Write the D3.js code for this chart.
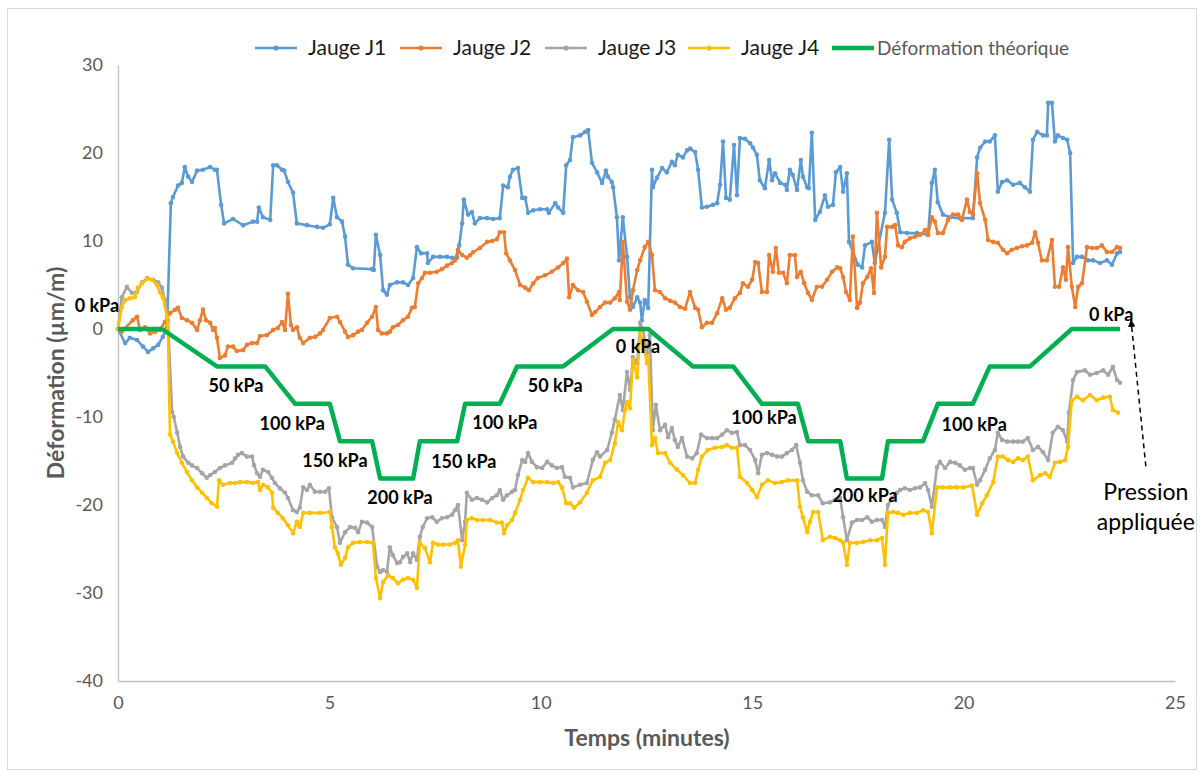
<!DOCTYPE html>
<html><head><meta charset="utf-8">
<script src="https://cdn.jsdelivr.net/npm/d3@7"></script>
<style>body{margin:0;background:#fff}svg{display:block}text{font-family:Lato,"Open Sans",sans-serif}</style>
</head><body><svg id="c" width="1203" height="776"></svg>
<script>
// ---------- DATA (time in minutes, strain in µm/m) ----------
const seriesNames = ["Jauge J1","Jauge J2","Jauge J3","Jauge J4","Déformation théorique"];
const xTicks = [0,5,10,15,20,25];
const yTicks = [-40,-30,-20,-10,0,10,20,30];

const j1 = [[0,0],[0.17,-1.6],[0.28,-1.0],[0.45,-1.25],[0.59,-2.0],[0.71,-2.6],[0.83,-2.2],[0.95,-1.8],[1.06,-0.9],[1.16,0.2],
[1.25,14.3],[1.30,15.0],[1.42,16.3],[1.51,16.6],[1.58,18.4],[1.66,17.3],[1.75,16.7],[1.87,18.0],[2.01,18.1],[2.18,18.4],[2.29,18.1],[2.34,18.1],
[2.44,14.1],[2.51,12.0],[2.72,12.5],[2.96,11.8],[3.19,12.2],[3.29,12.2],[3.33,13.8],[3.43,12.7],[3.60,12.4],
[3.67,18.6],[3.76,18.6],[3.88,18.1],[3.93,18.0],[4.02,16.7],[4.14,15.5],[4.23,12.0],[4.47,11.8],[4.71,11.6],[4.85,11.5],[5.01,11.9],[5.09,14.9],[5.18,12.7],[5.30,12.2],[5.37,10.5],[5.44,7.3],[5.56,6.9],[6.01,6.8],[6.05,6.7],[6.10,10.7],[6.20,8.4],[6.27,4.4],[6.36,3.9],[6.43,5.0],[6.60,5.3],[6.74,5.3],[6.86,5.0],[6.98,5.8],[7.07,9.3],[7.17,8.6],[7.31,8.6],[7.33,7.5],[7.45,8.2],[7.62,8.2],[7.78,8.2],[7.90,8.1],[8.02,8.1],[8.07,9.5],[8.14,12.0],[8.18,14.7],[8.28,13.0],[8.37,13.3],[8.44,12.0],[8.56,12.6],[8.73,12.6],[8.87,12.5],[9.03,12.6],[9.11,16.3],[9.22,16.1],[9.27,17.3],[9.34,18.1],[9.46,18.3],[9.56,14.9],[9.63,14.9],[9.70,13.2],[9.82,13.5],[9.98,13.6],[10.15,13.6],[10.19,13.2],[10.34,14.3],[10.41,13.8],[10.53,13.2],[10.60,18.6],[10.69,19.2],[10.76,21.8],[10.93,22.0],[11.05,22.4],[11.12,22.6],[11.21,18.9],[11.33,17.8],[11.45,16.6],[11.54,18.0],[11.59,17.3],[11.68,16.7],[11.71,16.1],[11.80,12.7],[11.85,7.8],[11.94,12.7],[12.04,8.2],[12.11,3.6],[12.18,2.5],[12.28,3.6],[12.35,3.0],[12.39,1.0],[12.46,3.3],[12.54,2.4],[12.63,18.1],[12.65,16.1],[12.75,17.2],[12.87,18.3],[12.98,17.8],[13.10,19.0],[13.17,18.6],[13.24,19.8],[13.36,19.5],[13.46,20.3],[13.53,20.5],[13.65,20.1],[13.72,18.1],[13.81,13.8],[13.93,13.9],[14.07,14.1],[14.17,14.3],[14.24,16.4],[14.31,21.3],[14.38,14.9],[14.47,14.7],[14.57,20.9],[14.64,15.2],[14.71,21.7],[14.83,21.6],[14.95,21.1],[15.02,20.6],[15.11,19.8],[15.18,16.9],[15.30,16.0],[15.40,19.2],[15.47,16.9],[15.54,17.7],[15.66,16.6],[15.78,16.4],[15.82,15.8],[15.89,18.1],[15.96,17.5],[16.06,15.8],[16.15,19.2],[16.20,17.3],[16.30,16.1],[16.34,16.0],[16.41,22.3],[16.49,12.4],[16.60,13.3],[16.72,15.2],[16.79,13.9],[16.91,14.1],[16.98,17.8],[17.08,18.4],[17.15,15.6],[17.24,17.7],[17.29,9.9],[17.50,7.3],[17.60,7.0],[17.67,9.5],[17.83,9.9],[17.90,7.5],[18.14,13.2],[18.24,21.5],[18.31,14.7],[18.42,13.2],[18.50,11.0],[18.66,10.9],[18.90,10.9],[19.16,10.7],[19.25,16.6],[19.32,18.1],[19.39,14.4],[19.51,13.0],[19.68,12.7],[19.91,12.6],[20.22,12.6],[20.32,19.5],[20.39,20.6],[20.51,21.3],[20.62,21.3],[20.74,22.0],[20.81,15.6],[20.91,16.7],[21.03,16.9],[21.17,16.4],[21.33,16.6],[21.45,16.1],[21.57,15.6],[21.64,21.5],[21.74,22.4],[21.88,22.0],[21.97,22.0],[22.00,25.7],[22.09,25.7],[22.16,21.3],[22.23,22.0],[22.35,21.7],[22.45,21.5],[22.52,20.0],[22.59,7.5],[22.68,8.2],[22.80,8.2],[22.94,7.8],[23.06,7.8],[23.23,7.5],[23.39,7.8],[23.51,7.3],[23.63,8.6],[23.70,8.75]];

const j2 = [[0,0],[0.09,-0.3],[0.35,1.0],[0.45,1.4],[0.52,-0.1],[0.64,0.2],[0.76,-0.5],[0.88,-0.3],[0.99,-0.1],[1.11,0.8],[1.23,1.8],[1.35,2.2],[1.42,2.4],[1.51,1.25],[1.63,1.0],[1.75,0.7],[1.87,-0.1],[1.94,1.0],[2.01,2.2],[2.08,1.0],[2.18,0.7],[2.25,-0.1],[2.29,0.1],[2.34,-1.0],[2.41,-3.3],[2.53,-3.0],[2.60,-2.0],[2.72,-2.0],[2.81,-2.5],[2.96,-2.4],[3.05,-1.8],[3.17,-1.6],[3.29,-1.6],[3.36,-0.8],[3.52,-0.7],[3.67,-0.1],[3.78,0.1],[3.88,0.8],[3.95,-0.1],[4.02,4.0],[4.09,0.45],[4.14,-0.1],[4.23,0.2],[4.30,-1.0],[4.38,-1.6],[4.54,-1.0],[4.66,-0.9],[4.78,-0.5],[4.85,-0.1],[5.01,1.25],[5.18,1.4],[5.25,0.8],[5.37,-0.3],[5.44,-0.9],[5.56,-0.7],[5.68,-0.3],[5.77,-0.1],[5.89,0.7],[6.01,1.4],[6.10,2.5],[6.15,-0.1],[6.24,-0.5],[6.36,-0.5],[6.43,-0.3],[6.50,0.2],[6.62,0.45],[6.74,1.0],[6.86,1.4],[6.95,2.4],[7.02,2.5],[7.10,5.2],[7.19,5.8],[7.26,6.4],[7.38,6.4],[7.54,6.5],[7.66,6.8],[7.78,7.2],[7.90,7.5],[7.97,7.8],[8.04,9.0],[8.14,8.4],[8.25,8.1],[8.33,8.4],[8.40,8.75],[8.56,9.2],[8.73,9.9],[8.85,10.0],[8.96,10.2],[9.03,11.0],[9.13,11.0],[9.18,8.6],[9.27,7.8],[9.39,6.7],[9.51,5.0],[9.63,4.7],[9.72,4.4],[9.82,5.2],[9.93,5.8],[10.10,6.1],[10.26,6.5],[10.41,7.0],[10.53,7.5],[10.62,8.0],[10.67,3.6],[10.76,5.0],[10.88,4.4],[11.00,4.2],[11.09,3.1],[11.21,1.6],[11.28,1.9],[11.40,2.5],[11.52,3.0],[11.64,3.0],[11.75,3.5],[11.85,4.2],[11.87,3.3],[11.94,9.9],[12.04,3.1],[12.11,2.2],[12.18,4.4],[12.28,6.7],[12.35,7.8],[12.46,9.3],[12.54,9.9],[12.63,8.4],[12.70,4.4],[12.82,4.2],[12.94,3.5],[13.06,3.2],[13.17,3.0],[13.29,2.5],[13.41,2.3],[13.53,4.2],[13.65,2.4],[13.72,2.2],[13.81,0.2],[13.93,0.7],[14.05,0.7],[14.17,1.8],[14.29,3.5],[14.38,2.2],[14.47,2.4],[14.59,3.5],[14.71,4.1],[14.78,5.2],[14.90,4.8],[15.00,5.6],[15.07,7.6],[15.14,7.5],[15.23,4.2],[15.35,4.2],[15.40,8.4],[15.49,6.5],[15.56,9.2],[15.63,6.4],[15.73,6.4],[15.82,5.2],[15.89,8.4],[16.01,8.4],[16.06,5.9],[16.15,6.5],[16.23,5.2],[16.32,4.1],[16.41,3.3],[16.53,4.8],[16.65,4.8],[16.77,5.6],[16.89,6.5],[17.01,7.0],[17.08,6.9],[17.15,5.9],[17.22,4.2],[17.31,3.3],[17.38,10.5],[17.48,2.4],[17.55,3.0],[17.62,5.2],[17.72,5.9],[17.81,6.9],[17.88,4.1],[17.95,13.2],[18.05,7.0],[18.14,8.2],[18.19,11.6],[18.31,11.6],[18.38,11.8],[18.45,9.5],[18.54,9.3],[18.61,9.9],[18.73,10.3],[18.85,10.5],[18.97,10.7],[19.09,11.25],[19.16,10.7],[19.25,12.7],[19.32,12.2],[19.39,10.9],[19.51,10.9],[19.63,12.4],[19.75,13.0],[19.87,13.0],[19.96,12.4],[20.08,14.7],[20.15,13.3],[20.22,13.0],[20.32,17.7],[20.39,14.3],[20.51,12.4],[20.58,10.1],[20.70,9.9],[20.81,9.8],[20.93,9.0],[21.03,8.6],[21.14,9.0],[21.26,9.2],[21.38,9.4],[21.50,9.5],[21.62,9.8],[21.69,11.0],[21.76,9.8],[21.85,7.8],[21.97,7.8],[22.09,10.1],[22.16,4.8],[22.26,4.8],[22.35,7.0],[22.42,5.6],[22.47,9.3],[22.56,4.8],[22.64,2.5],[22.71,4.8],[22.80,5.2],[22.92,9.3],[23.04,9.2],[23.15,9.2],[23.27,9.5],[23.39,8.75],[23.51,8.75],[23.63,9.3],[23.70,9.2]];

const j3 = [[0,0],[0.09,3.6],[0.21,4.8],[0.33,4.1],[0.45,4.2],[0.57,5.3],[0.69,5.8],[0.83,5.6],[0.95,5.3],[1.04,4.7],[1.11,3.3],[1.18,1.0],[1.28,-9.4],[1.32,-10.0],[1.40,-11.8],[1.47,-13.4],[1.54,-14.5],[1.66,-15.2],[1.75,-15.5],[1.87,-15.8],[1.99,-16.4],[2.10,-16.9],[2.18,-16.6],[2.29,-16.25],[2.41,-15.8],[2.53,-15.5],[2.70,-15.2],[2.77,-14.7],[2.84,-14.3],[2.93,-14.1],[3.05,-14.5],[3.17,-14.5],[3.22,-15.5],[3.29,-16.4],[3.36,-16.8],[3.43,-16.0],[3.55,-16.25],[3.64,-16.9],[3.71,-17.5],[3.83,-18.1],[3.95,-18.6],[4.02,-19.2],[4.14,-20.6],[4.23,-20.8],[4.30,-20.3],[4.38,-18.0],[4.47,-18.3],[4.54,-17.7],[4.66,-18.5],[4.78,-18.5],[4.90,-18.5],[4.99,-18.1],[5.06,-21.4],[5.18,-22.5],[5.25,-24.3],[5.37,-23.1],[5.49,-22.5],[5.61,-22.6],[5.68,-23.1],[5.77,-21.9],[5.89,-22.0],[6.01,-22.5],[6.13,-27.0],[6.20,-27.6],[6.27,-27.4],[6.36,-27.6],[6.43,-24.8],[6.50,-25.7],[6.60,-26.6],[6.67,-26.5],[6.74,-25.9],[6.84,-25.5],[6.91,-26.5],[6.98,-25.5],[7.07,-26.25],[7.14,-23.6],[7.21,-22.5],[7.31,-21.5],[7.43,-21.4],[7.54,-21.9],[7.66,-21.5],[7.78,-21.4],[7.90,-21.1],[7.97,-20.6],[8.04,-20.0],[8.14,-24.0],[8.21,-21.9],[8.25,-18.6],[8.37,-19.4],[8.49,-19.2],[8.61,-19.4],[8.73,-19.7],[8.85,-19.2],[8.96,-18.9],[9.03,-18.3],[9.11,-19.4],[9.20,-18.9],[9.32,-18.5],[9.39,-18.3],[9.46,-16.6],[9.56,-14.9],[9.63,-15.1],[9.70,-14.1],[9.79,-15.1],[9.91,-15.7],[10.03,-15.8],[10.15,-15.1],[10.26,-15.5],[10.38,-15.8],[10.50,-15.7],[10.57,-16.8],[10.69,-16.9],[10.76,-18.0],[10.93,-17.7],[11.09,-17.5],[11.23,-14.9],[11.33,-14.0],[11.40,-14.5],[11.57,-13.75],[11.68,-11.8],[11.75,-10.3],[11.87,-7.5],[11.94,-9.2],[12.04,-4.9],[12.11,-6.9],[12.18,-3.2],[12.28,-3.9],[12.35,0.7],[12.42,-0.1],[12.51,-2.7],[12.58,-0.7],[12.65,-11.5],[12.72,-8.6],[12.82,-11.5],[12.94,-10.9],[13.01,-12.3],[13.10,-11.25],[13.17,-12.6],[13.24,-13.4],[13.34,-12.4],[13.46,-14.5],[13.58,-14.7],[13.69,-14.1],[13.79,-12.0],[13.93,-12.4],[14.05,-12.4],[14.17,-12.4],[14.29,-12.0],[14.40,-11.5],[14.52,-11.8],[14.64,-11.7],[14.71,-13.2],[14.83,-13.2],[14.95,-13.75],[15.07,-14.9],[15.14,-16.4],[15.23,-14.3],[15.35,-14.1],[15.47,-14.3],[15.59,-14.5],[15.70,-14.5],[15.82,-14.1],[15.94,-13.75],[16.04,-13.2],[16.13,-15.2],[16.20,-17.2],[16.30,-18.5],[16.41,-18.9],[16.56,-18.9],[16.67,-19.8],[16.84,-19.7],[16.96,-19.4],[17.08,-19.2],[17.15,-21.4],[17.24,-24.0],[17.36,-22.0],[17.48,-21.7],[17.60,-21.7],[17.72,-21.4],[17.83,-21.9],[17.95,-21.7],[18.07,-21.7],[18.14,-22.5],[18.21,-20.0],[18.31,-19.2],[18.42,-18.6],[18.50,-18.3],[18.61,-18.1],[18.73,-18.3],[18.85,-18.1],[18.97,-18.0],[19.09,-17.5],[19.16,-18.3],[19.25,-20.2],[19.37,-15.7],[19.44,-15.1],[19.56,-15.8],[19.68,-15.1],[19.80,-15.2],[19.91,-15.5],[20.03,-16.0],[20.15,-15.8],[20.22,-15.8],[20.32,-17.7],[20.39,-17.2],[20.51,-16.0],[20.62,-14.7],[20.74,-13.75],[20.81,-11.8],[20.91,-12.6],[21.03,-12.8],[21.17,-12.8],[21.29,-12.8],[21.40,-12.8],[21.52,-12.4],[21.64,-13.75],[21.76,-13.4],[21.88,-14.0],[22.00,-14.9],[22.11,-11.8],[22.23,-11.1],[22.35,-11.5],[22.45,-12.8],[22.49,-9.5],[22.59,-5.8],[22.68,-4.9],[22.87,-4.7],[22.99,-5.2],[23.15,-5.0],[23.30,-4.7],[23.42,-5.2],[23.53,-4.3],[23.63,-5.8],[23.70,-6.1]];

const j4 = [[0,0],[0.09,2.5],[0.17,3.3],[0.28,3.5],[0.40,3.6],[0.47,4.7],[0.57,5.2],[0.69,5.7],[0.80,5.6],[0.92,5.0],[0.99,4.2],[1.06,3.6],[1.16,1.4],[1.18,-0.1],[1.23,-12.0],[1.30,-12.8],[1.40,-14.1],[1.51,-15.2],[1.63,-16.25],[1.75,-17.2],[1.87,-18.0],[1.99,-18.6],[2.10,-19.2],[2.22,-19.8],[2.34,-20.2],[2.39,-17.2],[2.48,-17.7],[2.65,-17.5],[2.77,-17.5],[2.89,-17.4],[3.05,-17.4],[3.19,-17.5],[3.31,-17.4],[3.36,-18.3],[3.43,-17.7],[3.55,-18.0],[3.64,-18.6],[3.67,-20.3],[3.78,-20.9],[3.90,-21.5],[4.02,-22.3],[4.14,-23.2],[4.23,-21.9],[4.30,-22.5],[4.38,-20.9],[4.54,-20.9],[4.78,-20.9],[5.01,-20.8],[5.06,-22.5],[5.13,-24.8],[5.20,-25.5],[5.27,-26.8],[5.37,-26.0],[5.44,-24.8],[5.56,-24.3],[5.72,-24.2],[5.89,-24.2],[6.03,-24.3],[6.10,-28.3],[6.20,-30.6],[6.27,-28.75],[6.39,-28.0],[6.50,-28.3],[6.62,-28.9],[6.74,-28.5],[6.86,-28.3],[6.98,-28.5],[7.07,-29.4],[7.14,-24.3],[7.26,-24.9],[7.38,-26.5],[7.45,-24.3],[7.57,-24.5],[7.69,-24.5],[7.85,-24.5],[7.97,-24.3],[8.04,-24.0],[8.11,-27.0],[8.21,-24.5],[8.25,-21.7],[8.37,-21.5],[8.49,-21.7],[8.63,-21.7],[8.80,-21.7],[8.96,-22.0],[9.08,-22.0],[9.13,-23.2],[9.20,-22.3],[9.32,-21.7],[9.39,-20.9],[9.51,-19.4],[9.58,-18.3],[9.70,-16.9],[9.82,-17.4],[9.98,-17.4],[10.15,-17.4],[10.29,-17.5],[10.41,-17.4],[10.50,-18.0],[10.60,-19.8],[10.69,-19.8],[10.79,-20.3],[10.93,-19.7],[11.09,-18.6],[11.23,-17.2],[11.40,-16.8],[11.52,-15.2],[11.64,-14.9],[11.75,-13.0],[11.83,-10.6],[11.92,-11.5],[11.99,-9.2],[12.04,-8.3],[12.11,-9.0],[12.18,-3.5],[12.28,-5.5],[12.35,-0.5],[12.42,-1.6],[12.51,-3.9],[12.54,-3.2],[12.63,-13.2],[12.70,-12.4],[12.77,-14.1],[12.94,-14.1],[13.06,-15.2],[13.22,-16.0],[13.36,-16.6],[13.53,-17.5],[13.65,-17.5],[13.72,-16.0],[13.81,-14.5],[13.95,-13.75],[14.12,-13.5],[14.29,-13.4],[14.40,-13.2],[14.52,-13.5],[14.64,-13.5],[14.71,-16.8],[14.88,-17.5],[15.00,-18.3],[15.11,-19.1],[15.23,-17.7],[15.37,-17.2],[15.54,-17.5],[15.70,-17.4],[15.85,-17.2],[16.06,-17.2],[16.13,-20.2],[16.20,-21.4],[16.30,-23.1],[16.37,-21.9],[16.44,-20.8],[16.56,-20.8],[16.67,-24.0],[16.84,-23.6],[16.96,-23.75],[17.08,-24.0],[17.15,-24.3],[17.24,-26.8],[17.31,-24.3],[17.48,-24.3],[17.62,-24.2],[17.79,-24.0],[17.95,-24.0],[18.07,-23.75],[18.14,-26.8],[18.21,-20.9],[18.33,-20.8],[18.45,-20.9],[18.57,-21.1],[18.73,-20.9],[18.90,-20.9],[19.04,-20.6],[19.16,-20.8],[19.25,-23.2],[19.37,-18.0],[19.51,-18.0],[19.68,-18.0],[19.84,-18.0],[19.99,-18.0],[20.20,-17.8],[20.32,-21.1],[20.44,-19.8],[20.55,-18.9],[20.70,-17.4],[20.81,-14.5],[20.93,-14.5],[21.05,-14.9],[21.17,-15.1],[21.29,-14.7],[21.40,-14.9],[21.52,-14.5],[21.64,-17.2],[21.81,-16.6],[21.93,-16.4],[22.04,-16.8],[22.16,-15.2],[22.28,-15.1],[22.40,-14.9],[22.47,-13.4],[22.56,-8.1],[22.68,-7.7],[22.82,-8.1],[22.99,-7.5],[23.15,-8.1],[23.30,-7.8],[23.46,-7.7],[23.53,-9.2],[23.65,-9.5]];

const theory = [[0,0],[1.04,0],[2.34,-4.25],[3.48,-4.25],[4.19,-8.5],[5.01,-8.5],[5.25,-12.75],[6.01,-12.75],[6.20,-17],[6.98,-17],[7.14,-12.75],[8.02,-12.75],[8.21,-8.5],[9.03,-8.5],[9.44,-4.25],[10.53,-4.25],[11.71,0],[12.54,0],[13.60,-4.25],[14.55,-4.25],[15.23,-8.5],[16.08,-8.5],[16.32,-12.75],[17.08,-12.75],[17.24,-17],[18.07,-17],[18.21,-12.75],[19.04,-12.75],[19.39,-8.5],[20.22,-8.5],[20.62,-4.25],[21.57,-4.25],[22.56,0],[23.70,0]];

// pressure labels and their anchor points (minutes, µm/m)
const pressureText = ["0 kPa","50 kPa","100 kPa","150 kPa","200 kPa","150 kPa","100 kPa","50 kPa","0 kPa","100 kPa","200 kPa","100 kPa","0 kPa"];
const pressureAt = [[-0.50,2.7],[2.79,-6.4],[4.12,-10.7],[5.13,-15.0],[6.67,-19.2],[8.18,-15.1],[9.15,-10.6],[10.34,-6.4],[12.30,-2.0],[15.28,-10.1],[17.67,-18.9],[20.25,-10.9],[23.49,1.7]];

// ---------- CHART ----------
const colors = ["#5B9BD5","#ED7D31","#A5A5A5","#FFC000","#00B050"];
const svg = d3.select("#c");
svg.append("rect").attr("x",7.5).attr("y",8.5).attr("width",1189).attr("height",761)
  .attr("fill","#fff").attr("stroke","#D9D9D9").attr("stroke-width",1);

const x = d3.scaleLinear().domain([0,25]).range([118,1175]);
const y = d3.scaleLinear().domain([-40,30]).range([681,65]);

const gx = svg.append("g").attr("transform","translate(0,681)")
  .call(d3.axisBottom(x).tickValues(xTicks).tickSize(0).tickSizeOuter(0).tickPadding(15).tickFormat(d=>String(d)));
const gy = svg.append("g").attr("transform","translate(118,0)")
  .call(d3.axisLeft(y).tickValues(yTicks).tickSize(0).tickSizeOuter(0).tickPadding(15).tickFormat(d=>String(d)));
[gx,gy].forEach(g=>{
  g.select(".domain").attr("stroke","#BFBFBF").attr("stroke-width",1.3);
  g.selectAll("text").attr("fill","#595959").style("font-size","18px").style("font-family","Lato, sans-serif");
});

svg.append("text").attr("x",647).attr("y",746).attr("text-anchor","middle")
  .attr("fill","#595959").style("font-size","23px").style("font-weight","bold").text("Temps (minutes)");
svg.append("text").attr("transform","translate(64,373) rotate(-90)").attr("text-anchor","middle")
  .attr("fill","#595959").style("font-size","23px").style("font-weight","bold").text("Déformation (µm/m)");

const line = d3.line().x(d=>x(d[0])).y(d=>y(d[1]));
const gauges = [j1,j2,j3,j4];
gauges.forEach((s,i)=>{
  const g = svg.append("g");
  g.append("path").datum(s).attr("d",line).attr("fill","none")
    .attr("stroke",colors[i]).attr("stroke-width",2.6).attr("stroke-linejoin","round");
  g.selectAll("circle").data(s).join("circle")
    .attr("cx",d=>x(d[0])).attr("cy",d=>y(d[1])).attr("r",2.3).attr("fill",colors[i]);
});
svg.append("path").datum(theory).attr("d",line).attr("fill","none")
  .attr("stroke",colors[4]).attr("stroke-width",4.5).attr("stroke-linejoin","round");

// pressure labels
svg.append("g").selectAll("text").data(pressureText).join("text")
  .attr("x",(d,i)=>x(pressureAt[i][0])).attr("y",(d,i)=>y(pressureAt[i][1]))
  .attr("dy","0.36em").attr("text-anchor","middle").attr("fill","#000")
  .style("font-size","18px").style("font-weight","bold").text(d=>d);

// "Pression appliquée" annotation
svg.append("defs").append("marker").attr("id","ah").attr("viewBox","0 0 10 10")
  .attr("refX",9).attr("refY",5).attr("markerWidth",5).attr("markerHeight",5).attr("orient","auto")
  .append("path").attr("d","M0,0L10,5L0,10z").attr("fill","#000");
svg.append("line").attr("x1",x(24.31)).attr("y1",y(-15.6)).attr("x2",x(23.96)).attr("y2",y(1.0))
  .attr("stroke","#000").attr("stroke-width",1.5).attr("stroke-dasharray","5,4").attr("marker-end","url(#ah)");
svg.append("text").attr("x",x(24.31)).attr("y",y(-18.5)).attr("dy","0.36em").attr("text-anchor","middle")
  .attr("fill","#000").style("font-size","23px").text("Pression");
svg.append("text").attr("x",x(24.31)).attr("y",y(-21.9)).attr("dy","0.36em").attr("text-anchor","middle")
  .attr("fill","#000").style("font-size","23px").text("appliquée");

// legend
const legX = [255,400,545,688,832];
const leg = svg.append("g");
seriesNames.forEach((n,i)=>{
  const g = leg.append("g").attr("transform",`translate(${legX[i]},48)`);
  g.append("line").attr("x1",0).attr("x2",42).attr("stroke",colors[i]).attr("stroke-width",i===4?4.5:2.6);
  if(i<4) g.append("circle").attr("cx",21).attr("r",2.6).attr("fill",colors[i]);
  g.append("text").attr("x",i===4?45:53).attr("dy","0.35em").attr("fill",i===4?"#595959":"#1a1a1a")
    .style("font-size",i===4?"19px":"21px").text(n);
});
</script></body></html>
